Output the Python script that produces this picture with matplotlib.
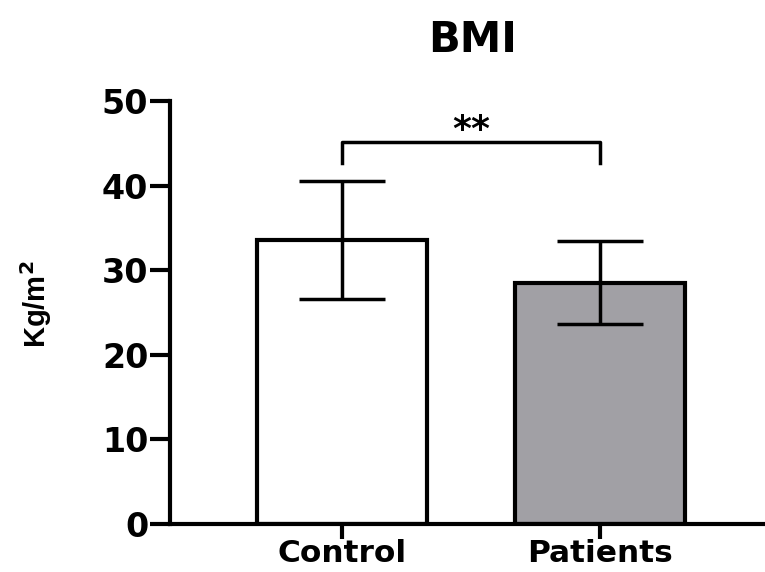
import numpy as np
import matplotlib.pyplot as plt

plt.rcParams['font.family'] = ['DejaVu Sans']

groups = ['Control', 'Patients']
means = [33.6, 28.5]
sds = [7.0, 4.9]
colors = ['white', '#a1a0a5']

fig = plt.figure(figsize=(7.65, 5.72), dpi=100)
ax = fig.add_axes([0.222, 0.0839, 0.778, 0.7395])

x = np.arange(len(groups))
ax.bar(x, means, width=0.66, color=colors, edgecolor='black', linewidth=3, zorder=2)
ax.errorbar(x, means, yerr=sds, fmt='none', ecolor='black', elinewidth=2.5,
            capsize=31, capthick=2.5, zorder=3)

# significance bracket
yb = 45.2
ax.plot([0, 0, 1, 1], [42.7, yb, yb, 42.7], color='black', lw=2.5, clip_on=False)
ax.text(0.5, yb - 0.6, '**', ha='center', va='bottom', fontsize=26, fontweight='bold')

ax.set_xlim(-0.667, 1.64)
ax.set_ylim(0, 50)
ax.set_yticks([0, 10, 20, 30, 40, 50])
ax.set_xticks(x)
ax.set_xticklabels(groups)
for s in ['top', 'right']:
    ax.spines[s].set_visible(False)
for s in ['left', 'bottom']:
    ax.spines[s].set_linewidth(3)
ax.tick_params(axis='y', width=3, length=14.5, labelsize=24, pad=1)
ax.tick_params(axis='x', width=3, length=11, labelsize=22.5, pad=0)
for lab in ax.get_xticklabels() + ax.get_yticklabels():
    lab.set_fontweight('bold')

ax.set_ylabel('Kg/m$^\\mathbf{2}$', fontsize=21, fontweight='bold', family='Liberation Sans')
ax.yaxis.set_label_coords(-0.195, 0.52)
fig.text(0.618, 0.93, 'BMI', ha='center', va='center', fontsize=30, fontweight='bold')

fig.savefig('out.png', dpi=100)
